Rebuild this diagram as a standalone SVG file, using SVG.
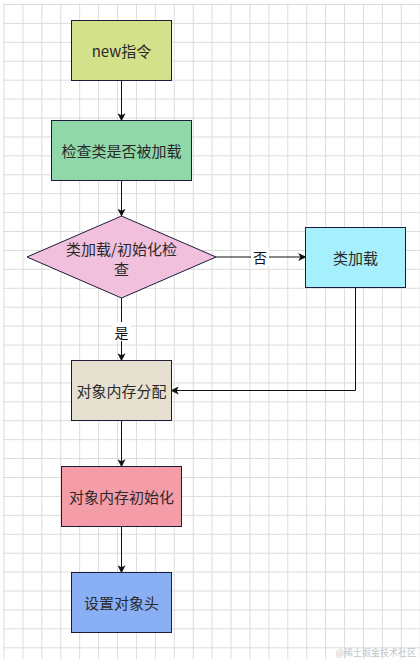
<svg xmlns="http://www.w3.org/2000/svg" width="420" height="659" viewBox="0 0 420 659">
  <defs>
    <pattern id="grid" x="3.5" y="4" width="18.92" height="18.92" patternUnits="userSpaceOnUse">
      <path d="M0 0.5H18.92M0.5 0V18.92" fill="none" stroke="#dcdcdc" stroke-width="1"/>
    </pattern>
    <marker id="arr" viewBox="0 0 10 10" refX="9" refY="5" markerWidth="8" markerHeight="8" markerUnits="userSpaceOnUse" orient="auto">
      <path d="M0 0L10 5L0 10L2.5 5Z" fill="#111"/>
    </marker>
    <style>
      .box { stroke: #1c1c3a; stroke-width: 1; }
      .lbl { font-family: "Noto Sans CJK SC", "Liberation Sans", sans-serif; font-size: 15px; fill: #2a2a2a; text-anchor: middle; dominant-baseline: central; }
      .edge { fill: none; stroke: #111; stroke-width: 1; marker-end: url(#arr); }
      .elbl { font-family: "Noto Sans CJK SC", "Liberation Sans", sans-serif; font-size: 14px; fill: #111; text-anchor: middle; dominant-baseline: central; }
    </style>
  </defs>
  <rect width="420" height="659" fill="#ffffff"/>
  <rect x="3" y="3.5" width="417" height="655.5" fill="url(#grid)"/>

  <g id="edges">
    <path class="edge" d="M121.5 80.5V120.5"/>
    <path class="edge" d="M121.5 180.5V216"/>
    <path class="edge" d="M216 257H305.5"/>
    <path class="edge" d="M121.5 298V360.5"/>
    <path class="edge" d="M355.5 287.5V390.5H171.5"/>
    <path class="edge" d="M121.5 420.5V466.5"/>
    <path class="edge" d="M121.5 526.5V572.5"/>
    <rect x="251" y="248" width="18" height="18" fill="#ffffff"/>
    <text class="elbl" x="260" y="257">否</text>
    <rect x="112.5" y="322" width="18" height="19" fill="#ffffff"/>
    <text class="elbl" x="121.5" y="331.5">是</text>
  </g>

  <g id="node-new">
    <rect class="box" x="71.5" y="20.5" width="100" height="60" fill="#d4e18b"/>
    <text class="lbl" x="121.5" y="50.5">new指令</text>
  </g>
  <g id="node-check">
    <rect class="box" x="51.5" y="120.5" width="140" height="60" fill="#90d8a9"/>
    <text class="lbl" x="121.5" y="150.5">检查类是否被加载</text>
  </g>
  <g id="node-decision">
    <path class="box" d="M121.5 216L216 257L121.5 298L27 257Z" fill="#f0c0dc"/>
    <text class="lbl" x="121.5" y="248">类加载/初始化检</text>
    <text class="lbl" x="121.5" y="268">查</text>
  </g>
  <g id="node-classload">
    <rect class="box" x="305.5" y="227.5" width="100" height="60" fill="#a6effc"/>
    <text class="lbl" x="355.5" y="257.5">类加载</text>
  </g>
  <g id="node-alloc">
    <rect class="box" x="71.5" y="360.5" width="100" height="60" fill="#e6e0d0"/>
    <text class="lbl" x="121.5" y="390.5">对象内存分配</text>
  </g>
  <g id="node-init">
    <rect class="box" x="61.5" y="466.5" width="120" height="60" fill="#f59ca9"/>
    <text class="lbl" x="121.5" y="496.5">对象内存初始化</text>
  </g>
  <g id="node-header">
    <rect class="box" x="71.5" y="572.5" width="100" height="60" fill="#89aff4"/>
    <text class="lbl" x="121.5" y="602.5">设置对象头</text>
  </g>

  <text x="416" y="652" font-family="Noto Sans CJK SC, sans-serif" font-size="9" fill="#c4c4c4" text-anchor="end" dominant-baseline="central">@稀土掘金技术社区</text>
</svg>
